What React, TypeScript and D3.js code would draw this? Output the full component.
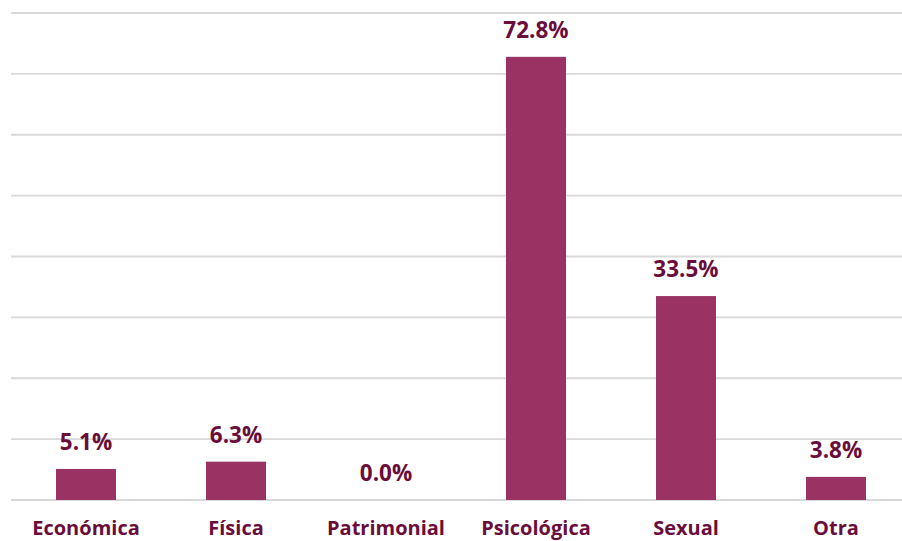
import React from "react";
import * as d3 from "d3";

const categories = ["Económica", "Física", "Patrimonial", "Psicológica", "Sexual", "Otra"];
const values = [5.1, 6.3, 0.0, 72.8, 33.5, 3.8];
const gridTicks = [0, 10, 20, 30, 40, 50, 60, 70, 80];

const W = 902;
const H = 541;
const plotLeft = 11;
const plotRight = 911;
const plotTop = 13;
const plotBottom = 500;

export default function App() {
  const x = d3.scaleBand<string>().domain(categories).range([plotLeft, plotRight]).paddingInner(0.6).paddingOuter(0.3);
  const y = d3.scaleLinear().domain([0, 80]).range([plotBottom, plotTop]);
  const font = "'Open Sans', sans-serif";
  return (
    <svg width={W} height={H} style={{ position: "absolute", left: 0, top: 0, background: "#fff" }}>
      {gridTicks.map((t) => (
        <line key={t} x1={plotLeft} x2={W} y1={y(t)} y2={y(t)} stroke="#d9d9d9" strokeWidth={1.8} />
      ))}
      {categories.map((c, i) => {
        const v = values[i];
        const bx = x(c)!;
        const bw = x.bandwidth();
        const cx = bx + bw / 2;
        return (
          <g key={c}>
            {v > 0 && <rect x={bx} y={y(v)} width={bw} height={plotBottom - y(v)} fill="#9a3363" />}
            <text x={cx} y={y(v) - 19} textAnchor="middle" fontFamily={font} fontWeight={700} fontSize={22.5} fill="#6a0d3b">
              {v.toFixed(1) + "%"}
            </text>
            <text x={cx} y={535} textAnchor="middle" fontFamily={font} fontWeight={700} fontSize={20} fill="#6a0d3b">
              {c}
            </text>
          </g>
        );
      })}
    </svg>
  );
}
